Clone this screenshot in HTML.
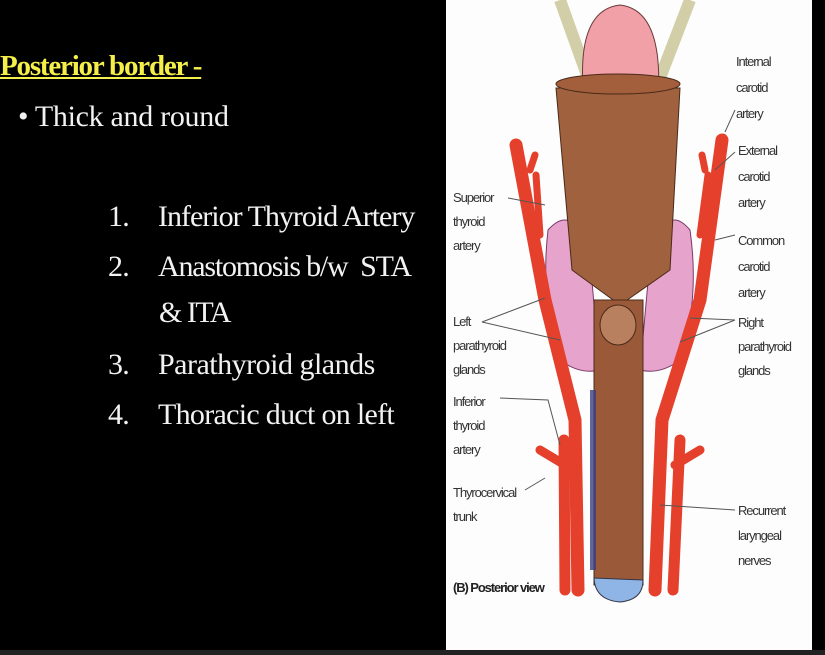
<!DOCTYPE html>
<html><head><style>
body{margin:0;width:825px;height:655px;background:#000;overflow:hidden;position:relative;font-family:"Liberation Serif",serif}
.t{position:absolute;color:#f2f2f2;white-space:nowrap;font-size:30px;letter-spacing:-0.8px}
</style></head><body>
<div class="t" style="left:0;top:50px;font-size:29px;color:#f5ef4a;font-weight:bold;text-decoration:underline;letter-spacing:-1.2px">Posterior border -</div>
<div class="t" style="left:18px;top:100px;letter-spacing:-0.3px">• Thick and round</div>
<div class="t" style="left:108px;top:200px">1.</div><div class="t" style="left:158px;top:200px;letter-spacing:-1px">Inferior Thyroid Artery</div>
<div class="t" style="left:108px;top:250px">2.</div><div class="t" style="left:158px;top:250px;letter-spacing:-1.2px">Anastomosis b/w&nbsp; STA</div>
<div class="t" style="left:159px;top:296px;letter-spacing:-1.5px">&amp; ITA</div>
<div class="t" style="left:108px;top:348px">3.</div><div class="t" style="left:158px;top:348px;letter-spacing:-0.5px">Parathyroid glands</div>
<div class="t" style="left:108px;top:398px">4.</div><div class="t" style="left:158px;top:398px;letter-spacing:-0.7px">Thoracic duct on left</div>
<svg style="position:absolute;left:446px;top:0" width="366" height="650" viewBox="446 0 366 650">
<rect x="446" y="0" width="366" height="650" fill="#fdfdfd"/>
<g font-family="Liberation Sans,sans-serif" font-size="13" fill="#333" letter-spacing="-1.1">
<text x="736" y="66">Internal</text><text x="736" y="92">carotid</text><text x="736" y="118">artery</text>
<text x="738" y="155">External</text><text x="738" y="181">carotid</text><text x="738" y="207">artery</text>
<text x="738" y="245">Common</text><text x="738" y="271">carotid</text><text x="738" y="297">artery</text>
<text x="738" y="327">Right</text><text x="738" y="351">parathyroid</text><text x="738" y="375">glands</text>
<text x="738" y="515">Recurrent</text><text x="738" y="540">laryngeal</text><text x="738" y="565">nerves</text>
<text x="453" y="202">Superior</text><text x="453" y="226">thyroid</text><text x="453" y="250">artery</text>
<text x="453" y="326">Left</text><text x="453" y="350">parathyroid</text><text x="453" y="374">glands</text>
<text x="453" y="406">Inferior</text><text x="453" y="430">thyroid</text><text x="453" y="454">artery</text>
<text x="453" y="497">Thyrocervical</text><text x="453" y="521">trunk</text>
<text x="453" y="592" font-weight="bold" fill="#222">(B) Posterior view</text>
</g>
<path d="M560 0 L588 78 M690 0 L660 78" stroke="#d2cfa8" stroke-width="12" fill="none"/>
<path d="M584 100 Q575 10 620 5 Q664 10 658 100 Z" fill="#f2a0a8" stroke="#6a3a3a"/>
<path d="M548 230 Q575 200 590 260 L600 370 Q580 375 560 360 Q540 300 548 230Z" fill="#e6a4cc" stroke="#7a3a6a"/>
<path d="M690 230 Q665 200 650 260 L640 370 Q660 375 680 360 Q700 300 690 230Z" fill="#e6a4cc" stroke="#7a3a6a"/>
<path d="M556 88 L680 88 L670 270 L620 305 L572 270 Z" fill="#a0623e" stroke="#4a2a18"/>
<ellipse cx="618" cy="84" rx="62" ry="10" fill="#a35e3c" stroke="#4a2a18"/>
<rect x="594" y="300" width="49" height="285" fill="#9a5a3a" stroke="#4a2a18"/>
<ellipse cx="618" cy="325" rx="18" ry="20" fill="#b98060" stroke="#4a2a18"/>
<rect x="590" y="390" width="6" height="180" fill="#3a4080" opacity="0.8"/>
<path d="M594 578 Q595 600 620 602 Q643 600 643 580 Z" fill="#8fb4e6" stroke="#334"/>
<g stroke="#e5402c" stroke-linecap="round" fill="none">
<path d="M516 145 L545 300 L575 420 L578 590" stroke-width="13"/>
<path d="M722 140 L700 300 L662 420 L655 590" stroke-width="13"/>
<path d="M564 440 L565 590" stroke-width="11"/>
<path d="M680 440 L673 590" stroke-width="11"/>
<path d="M530 170 L535 155 M536 175 L540 235" stroke-width="7"/>
<path d="M705 170 L702 155 M708 175 L700 235" stroke-width="7"/>
<path d="M540 450 L565 465 M700 450 L675 465" stroke-width="9"/>
</g>
<g stroke="#555" fill="none" stroke-width="1">
<path d="M735 110 L725 132 M735 152 L715 170 M735 235 L715 240 M735 320 L690 318 M735 320 L680 342 M735 510 L660 505 M508 198 L545 205 M482 322 L545 298 M482 322 L560 340 M500 398 L548 400 L560 445 M525 490 L545 478"/>
</g>
</svg>
<div style="position:absolute;left:0;top:650px;width:825px;height:5px;background:#222"></div>
</body></html>
